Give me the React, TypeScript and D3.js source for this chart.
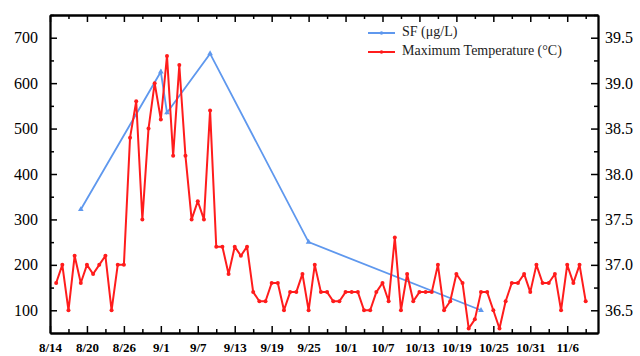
import React, { useEffect, useRef } from 'react';
import * as d3 from 'd3';

// SF sampling days (left axis)
const sfDates = ['8/19', '9/1', '9/2', '9/9', '9/25', '10/23'];
const sfValues = [322, 625, 535, 665, 250, 100];

// daily maximum temperature (right axis)
const tempDates = [
  '8/15', '8/16', '8/17', '8/18', '8/19', '8/20', '8/21', '8/22', '8/23', '8/24', '8/25', '8/26',
  '8/27', '8/28', '8/29', '8/30', '8/31', '9/1', '9/2', '9/3', '9/4', '9/5', '9/6', '9/7', '9/8',
  '9/9', '9/10', '9/11', '9/12', '9/13', '9/14', '9/15', '9/16', '9/17', '9/18', '9/19', '9/20',
  '9/21', '9/22', '9/23', '9/24', '9/25', '9/26', '9/27', '9/28', '9/29', '9/30', '10/1', '10/2',
  '10/3', '10/4', '10/5', '10/6', '10/7', '10/8', '10/9', '10/10', '10/11', '10/12', '10/13',
  '10/14', '10/15', '10/16', '10/17', '10/18', '10/19', '10/20', '10/21', '10/22', '10/23',
  '10/24', '10/25', '10/26', '10/27', '10/28', '10/29', '10/30', '10/31', '11/1', '11/2', '11/3',
  '11/4', '11/5', '11/6', '11/7', '11/8', '11/9'
];
const tempValues = [
  36.8, 37.0, 36.5, 37.1, 36.8, 37.0, 36.9, 37.0, 37.1, 36.5, 37.0, 37.0,
  38.4, 38.8, 37.5, 38.5, 39.0, 38.6, 39.3, 38.2, 39.2, 38.2, 37.5, 37.7, 37.5,
  38.7, 37.2, 37.2, 36.9, 37.2, 37.1, 37.2, 36.7, 36.6, 36.6, 36.8, 36.8,
  36.5, 36.7, 36.7, 36.9, 36.5, 37.0, 36.7, 36.7, 36.6, 36.6, 36.7, 36.7,
  36.7, 36.5, 36.5, 36.7, 36.8, 36.6, 37.3, 36.5, 36.9, 36.6, 36.7,
  36.7, 36.7, 37.0, 36.5, 36.6, 36.9, 36.8, 36.3, 36.4, 36.7,
  36.7, 36.5, 36.3, 36.6, 36.8, 36.8, 36.9, 36.7, 37.0, 36.8, 36.8,
  36.9, 36.5, 37.0, 36.8, 37.0, 36.6
];

const xTickLabels = ['8/14', '8/20', '8/26', '9/1', '9/7', '9/13', '9/19', '9/25', '10/1', '10/7', '10/13', '10/19', '10/25', '10/31', '11/6'];
const leftTicks = [100, 200, 300, 400, 500, 600, 700];
const rightTicks = [36.5, 37.0, 37.5, 38.0, 38.5, 39.0, 39.5];

const SF_COLOR = '#5f98ee';
const T_COLOR = '#ff1c1c';
const FONT = '"Liberation Serif", "Times New Roman", serif';

const App = () => {
  const svgRef = useRef<SVGSVGElement>(null);

  useEffect(() => {
    const svg = d3.select(svgRef.current);
    svg.selectAll('*').remove();

    const width = 640;
    const height = 356;
    const left = 50, right = 598, top = 15, bottom = 333;

    const parse = d3.timeParse('%m/%d');

    const x = d3.scaleTime()
      .domain([parse('8/14'), parse('11/11')])
      .range([left, right]);
    const yL = d3.scaleLinear().domain([50, 750]).range([bottom, top]);
    const yR = d3.scaleLinear().domain([36.25, 39.75]).range([bottom, top]);

    const majorDates = xTickLabels.map(d => parse(d));
    const minorDates = majorDates.map(d => d3.timeDay.offset(d, 3));
    const leftMinor = leftTicks.map(v => v + 50);
    const rightMinor = rightTicks.map(v => v + 0.25);

    const styleAxis = (g) => {
      g.select('.domain').attr('stroke', '#000').attr('stroke-width', 1.8);
      g.selectAll('.tick line').attr('stroke', '#000').attr('stroke-width', 1.5);
      g.selectAll('text').attr('fill', '#000').style('font-family', FONT);
    };

    // bottom axis
    svg.append('g')
      .attr('transform', `translate(0,${bottom})`)
      .call(d3.axisBottom(x).tickValues(minorDates).tickSizeInner(-4).tickSizeOuter(0).tickFormat(() => ''))
      .call(styleAxis);
    svg.append('g')
      .attr('transform', `translate(0,${bottom})`)
      .call(d3.axisBottom(x).tickValues(majorDates).tickSizeInner(-7).tickSizeOuter(0).tickPadding(10)
        .tickFormat((d, i) => xTickLabels[i]))
      .call(styleAxis)
      .call(g => g.selectAll('text').style('font-size', '13px').style('font-weight', 'bold'));

    // top axis (ticks only)
    svg.append('g')
      .attr('transform', `translate(0,${top})`)
      .call(d3.axisTop(x).tickValues(minorDates).tickSizeInner(-4).tickSizeOuter(0).tickFormat(() => ''))
      .call(styleAxis);
    svg.append('g')
      .attr('transform', `translate(0,${top})`)
      .call(d3.axisTop(x).tickValues(majorDates).tickSizeInner(-7).tickSizeOuter(0).tickFormat(() => ''))
      .call(styleAxis);

    // left axis
    svg.append('g')
      .attr('transform', `translate(${left},0)`)
      .call(d3.axisLeft(yL).tickValues(leftMinor).tickSizeInner(-4).tickSizeOuter(0).tickFormat(() => ''))
      .call(styleAxis);
    svg.append('g')
      .attr('transform', `translate(${left},0)`)
      .call(d3.axisLeft(yL).tickValues(leftTicks).tickSizeInner(-7).tickSizeOuter(0).tickPadding(12)
        .tickFormat(d3.format('d')))
      .call(styleAxis)
      .call(g => g.selectAll('text').style('font-size', '16px'));

    // right axis
    svg.append('g')
      .attr('transform', `translate(${right},0)`)
      .call(d3.axisRight(yR).tickValues(rightMinor).tickSizeInner(-4).tickSizeOuter(0).tickFormat(() => ''))
      .call(styleAxis);
    svg.append('g')
      .attr('transform', `translate(${right},0)`)
      .call(d3.axisRight(yR).tickValues(rightTicks).tickSizeInner(-7).tickSizeOuter(0).tickPadding(7)
        .tickFormat(d3.format('.1f')))
      .call(styleAxis)
      .call(g => g.selectAll('text').style('font-size', '16px'));

    // SF line
    const sfData = sfDates.map((d, i) => ({ date: parse(d), value: sfValues[i] }));
    svg.append('path')
      .datum(sfData)
      .attr('fill', 'none')
      .attr('stroke', SF_COLOR)
      .attr('stroke-width', 1.8)
      .attr('d', d3.line().x(d => x(d.date)).y(d => yL(d.value)));
    svg.selectAll('.sf-pt')
      .data(sfData)
      .enter().append('path')
      .attr('class', 'sf-pt')
      .attr('transform', d => `translate(${x(d.date)},${yL(d.value)})`)
      .attr('d', d3.symbol().type(d3.symbolTriangle).size(14))
      .attr('fill', SF_COLOR);

    // temperature line
    const tData = tempDates.map((d, i) => ({ date: parse(d), value: tempValues[i] }));
    svg.append('path')
      .datum(tData)
      .attr('fill', 'none')
      .attr('stroke', T_COLOR)
      .attr('stroke-width', 2)
      .attr('stroke-linejoin', 'round')
      .attr('d', d3.line().x(d => x(d.date)).y(d => yR(d.value)));
    svg.selectAll('.t-pt')
      .data(tData)
      .enter().append('circle')
      .attr('class', 't-pt')
      .attr('cx', d => x(d.date))
      .attr('cy', d => yR(d.value))
      .attr('r', 2)
      .attr('fill', T_COLOR);

    // legend
    const legend = [
      { label: 'SF (μg/L)', color: SF_COLOR, y: 33 },
      { label: 'Maximum Temperature (°C)', color: T_COLOR, y: 52 }
    ];
    legend.forEach(item => {
      svg.append('line')
        .attr('x1', 368).attr('x2', 395)
        .attr('y1', item.y).attr('y2', item.y)
        .attr('stroke', item.color)
        .attr('stroke-width', 2);
      svg.append('circle')
        .attr('cx', 381.5).attr('cy', item.y).attr('r', 1.8)
        .attr('fill', item.color);
      svg.append('text')
        .attr('x', 402)
        .attr('y', item.y)
        .attr('dominant-baseline', 'middle')
        .style('font-family', FONT)
        .style('font-size', '14px')
        .attr('fill', '#222')
        .text(item.label);
    });

    svg.attr('width', width).attr('height', height);
  }, []);

  return (
    <div style={{ position: 'absolute', left: 0, top: 0 }}>
      <svg ref={svgRef} width={640} height={356} style={{ display: 'block', background: '#fff' }} />
    </div>
  );
};

export default App;
